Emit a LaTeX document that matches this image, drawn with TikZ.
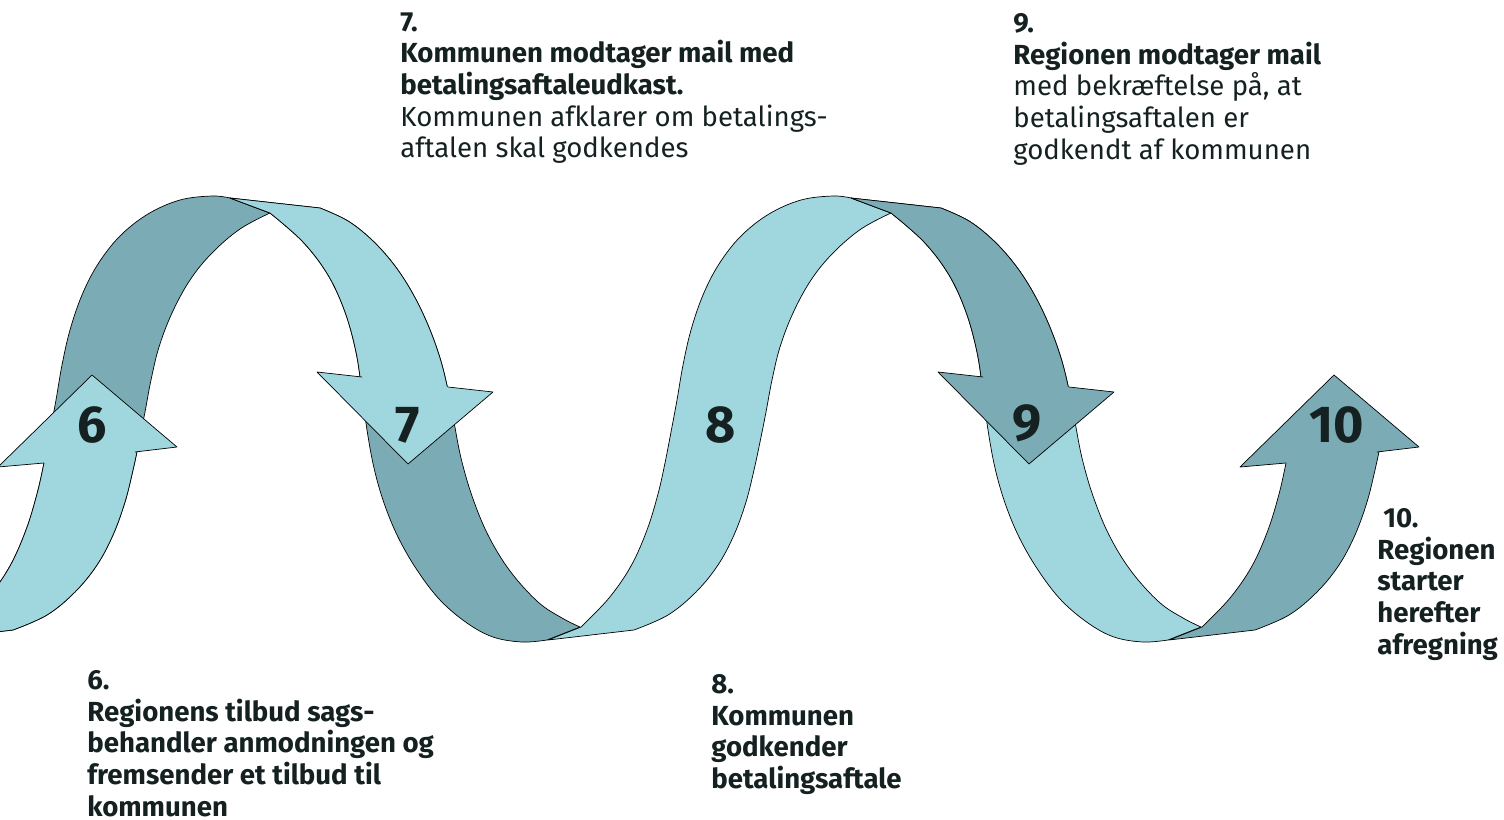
\documentclass[tikz,border=0pt]{standalone}
\usepackage{fontspec}
\setmainfont{Fira Sans}
\usepackage{tikz}

\definecolor{ribbonlight}{HTML}{A0D6DE}
\definecolor{ribbondark}{HTML}{7BACB5}
\definecolor{inktext}{HTML}{152121}

% one wave period (pixel units, y downwards): rising and falling half
\newcommand{\riseBand}{plot[smooth,tension=.6] coordinates {(-40,627) (-12,598) (10,566) (26,530) (37,494) (44,463) (50,432) (56,400) (62,365) (70,330) (82,295) (98,264) (120,236) (148,214) (180,200) (212,196) (230,198)}
  -- plot[smooth,tension=.6] coordinates {(270,213) (240,229) (212,253) (190,280) (172,313) (159,347) (151,380) (145,412) (139,442) (133,470) (125,502) (113,535) (97,565) (75,592) (47,615) (13,630)}
  -- (-73,640) -- cycle}
\newcommand{\fallBand}{plot[smooth,tension=.6] coordinates {(320,208) (348,221) (373,241) (395,266) (413,294) (428,325) (440,358) (448,390) (454,422) (461,458) (472,496) (488,535) (510,571) (538,602) (562,618) (580,627)}
  -- plot[smooth,tension=.6] coordinates {(547,640) (522,642) (493,637) (467,623) (440,600) (417,570) (398,537) (384,503) (374,468) (367,430) (362,392) (356,352) (345,312) (328,275) (303,242) (270,213)}
  -- (230,198) -- cycle}

\begin{document}
\begin{tikzpicture}[x=0.5pt,y=-0.5pt]
			\tikzstyle{every node}+=[inner sep=0pt]
			\tikzstyle{band}=[draw=black,line width=0.35pt,line join=round]
			\tikzstyle{stepnum}=[font=\fontsize{26}{30}\selectfont\bfseries,text=inktext]
			\tikzstyle{steptext}=[anchor=north west,align=left,text=inktext,font=\fontsize{13.8}{15.85}\selectfont]
			\tikzstyle{steptextb}=[steptext,font=\fontsize{13.8}{15.85}\selectfont\bfseries]
			\useasboundingbox (0,0) rectangle (1504,819);
			% first period: 6 up, 7 down
			\path [band,fill=ribbondark] \riseBand;
			\begin{scope}
			\clip (-100,440) rectangle (400,700);
			\path [band,fill=ribbonlight] \riseBand;
			\end{scope}
			\fill [ribbonlight] (44,463) -- (-2,467) -- (92,375) -- (177,447) -- (135,452) -- cycle;
			\draw [band] (44,463) -- (-2,467) -- (92,375) -- (177,447) -- (135,452);
			\path [band,fill=ribbondark] \fallBand;
			\begin{scope}
			\clip (200,150) rectangle (600,400);
			\path [band,fill=ribbonlight] \fallBand;
			\end{scope}
			\fill [ribbonlight] (362,377) -- (317,372) -- (408,464) -- (493,392) -- (448,387) -- cycle;
			\draw [band] (362,377) -- (317,372) -- (408,464) -- (493,392) -- (448,387);
			% second period: 8 up, 9 down
			\begin{scope}[shift={(621,0)}]
			\path [band,fill=ribbonlight] \riseBand;
			\path [band,fill=ribbonlight] \fallBand;
			\begin{scope}
			\clip (200,150) rectangle (600,400);
			\path [band,fill=ribbondark] \fallBand;
			\end{scope}
			\fill [ribbondark] (362,377) -- (317,372) -- (408,464) -- (493,392) -- (448,387) -- cycle;
			\draw [band] (362,377) -- (317,372) -- (408,464) -- (493,392) -- (448,387);
			\end{scope}
			% last arrow: 10 up
			\begin{scope}[shift={(1242,0)}]
			\begin{scope}
			\clip (-100,440) rectangle (400,700);
			\path [band,fill=ribbondark] \riseBand;
			\end{scope}
			\fill [ribbondark] (44,463) -- (-2,467) -- (92,375) -- (177,447) -- (135,452) -- cycle;
			\draw [band] (44,463) -- (-2,467) -- (92,375) -- (177,447) -- (135,452);
			\end{scope}
			% numbers on the arrows
			\node [stepnum] (num6) at (92,425) {6};
			\node [stepnum] (num7) at (408,425) {7};
			\node [stepnum] (num8) at (721,425) {8};
			\node [stepnum] (num9) at (1027,423) {9};
			\node [stepnum] (num10) at (1337,425) {10};
			% step texts
			\node [steptext] (txt7) at (400,12) {\textbf{7.}\\\textbf{Kommunen modtager mail med}\\\textbf{betalingsaftaleudkast.}\\Kommunen afklarer om betalings-\\aftalen skal godkendes};
			\node [steptext] (txt9) at (1013,13) {\textbf{9.}\\\textbf{Regionen modtager mail}\\med bekræftelse på, at\\betalingsaftalen er\\godkendt af kommunen};
			\node [steptextb] (txt6) at (87,670) {6.\\Regionens tilbud sags-\\behandler anmodningen og\\fremsender et tilbud til\\kommunen};
			\node [steptextb] (txt8) at (711,674) {8.\\Kommunen\\godkender\\betalingsaftale};
			\node [steptextb] (txt10) at (1377,508) {\hspace*{3pt}10.\\Regionen\\starter\\herefter\\afregning};
\end{tikzpicture}
\end{document}
